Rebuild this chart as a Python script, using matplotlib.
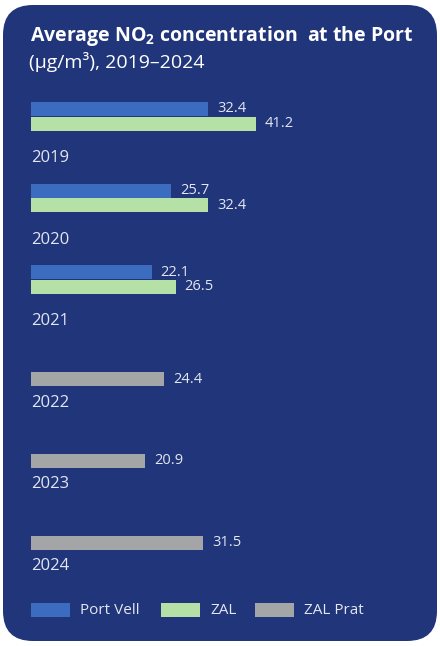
"""Average NO2 concentration at the Port, 2019-2024 (horizontal grouped bars)."""
import numpy as np
import matplotlib.pyplot as plt
from matplotlib.patches import FancyBboxPatch, Rectangle

years = ['2019', '2020', '2021', '2022', '2023', '2024']
port_vell = [32.4, 25.7, 22.1, None, None, None]
zal = [41.2, 32.4, 26.5, None, None, None]
zal_prat = [None, None, None, 24.4, 20.9, 31.5]
series_names = ['Port Vell', 'ZAL', 'ZAL Prat']

BG = '#20357a'
TXT = '#e4e7f1'
COLORS = ['#3b6cc0', '#b6e1a6', '#a3a5a6']
FONT = 'Open Sans'

W, H = 440, 646
fig = plt.figure(figsize=(W / 100, H / 100), dpi=100)
fig.patch.set_facecolor('white')

# rounded dark card
card = fig.add_axes([0, 0, 1, 1])
card.set_xlim(0, W)
card.set_ylim(H, 0)
card.axis('off')
card.add_patch(FancyBboxPatch((3 + 30, 5 + 30), W - 6 - 60, H - 10 - 60,
                              boxstyle='round,pad=30', fc=BG, ec='none'))

card.text(30, 41, r'Average NO$_\mathregular{2}$ concentration  at the Port',
          color='white', fontsize=14, fontweight='bold', family=FONT)
card.text(29, 68, '(µg/m³), 2019–2024', color='white', fontsize=14, family=FONT)

# chart area: x in µg/m3, y in year index
px_per_unit = 5.46
step = 81.6
y0 = 123.5
ax = fig.add_axes([31 / W, 0, (W - 31) / W, 1])
ax.set_xlim(0, (W - 31) / px_per_unit)
ax.set_ylim((H - y0) / step, -y0 / step)
ax.axis('off')

bh = 14 / step
offsets = [-14.5 / step, 0, 11 / step]
for s, (vals, off) in enumerate(zip([port_vell, zal, zal_prat], offsets)):
    for i, v in enumerate(vals):
        if v is None:
            continue
        ax.barh(i + off, v, height=bh, color=COLORS[s], edgecolor='none')
        ax.text(v + 9 / px_per_unit, i + off, f'{v:.1f}', color=TXT,
                fontsize=10.5, va='center', ha='left', family=FONT)

for i, y in enumerate(years):
    ax.text(0, i + 34.5 / step, y, color=TXT, fontsize=12, va='center',
            ha='left', family=FONT)

# legend
leg_x = [31, 161, 255]
for name, c, x in zip(series_names, COLORS, leg_x):
    card.add_patch(Rectangle((x, 603), 39, 14, fc=c, ec='none'))
    card.text(x + 49, 610.5, name, color=TXT, fontsize=11, va='center',
              ha='left', family=FONT)

fig.savefig('out.png', dpi=100, facecolor='white')
